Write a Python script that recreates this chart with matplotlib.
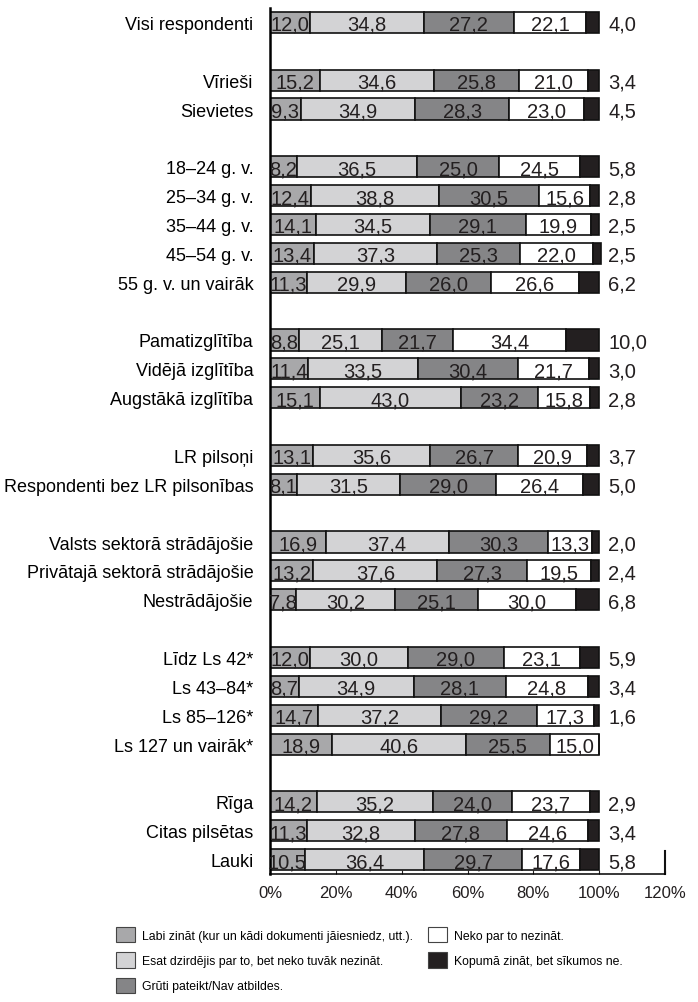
import numpy as np
import matplotlib.pyplot as plt
from matplotlib.patches import Patch

plt.rcParams['font.family'] = ['Liberation Sans', 'DejaVu Sans']

# rows grouped, one empty slot between groups
groups = [
    ['Visi respondenti'],
    ['Vīrieši', 'Sievietes'],
    ['18–24 g. v.', '25–34 g. v.', '35–44 g. v.', '45–54 g. v.', '55 g. v. un vairāk'],
    ['Pamatizglītība', 'Vidējā izglītība', 'Augstākā izglītība'],
    ['LR pilsoņi', 'Respondenti bez LR pilsonības'],
    ['Valsts sektorā strādājošie', 'Privātajā sektorā strādājošie', 'Nestrādājošie'],
    ['Līdz Ls 42*', 'Ls 43–84*', 'Ls 85–126*', 'Ls 127 un vairāk*'],
    ['Rīga', 'Citas pilsētas', 'Lauki'],
]

labi = [12.0, 15.2, 9.3, 8.2, 12.4, 14.1, 13.4, 11.3, 8.8, 11.4, 15.1, 13.1, 8.1,
        16.9, 13.2, 7.8, 12.0, 8.7, 14.7, 18.9, 14.2, 11.3, 10.5]
dzirdejis = [34.8, 34.6, 34.9, 36.5, 38.8, 34.5, 37.3, 29.9, 25.1, 33.5, 43.0, 35.6, 31.5,
             37.4, 37.6, 30.2, 30.0, 34.9, 37.2, 40.6, 35.2, 32.8, 36.4]
gruti = [27.2, 25.8, 28.3, 25.0, 30.5, 29.1, 25.3, 26.0, 21.7, 30.4, 23.2, 26.7, 29.0,
         30.3, 27.3, 25.1, 29.0, 28.1, 29.2, 25.5, 24.0, 27.8, 29.7]
neko = [22.1, 21.0, 23.0, 24.5, 15.6, 19.9, 22.0, 26.6, 34.4, 21.7, 15.8, 20.9, 26.4,
        13.3, 19.5, 30.0, 23.1, 24.8, 17.3, 15.0, 23.7, 24.6, 17.6]
kopuma = [4.0, 3.4, 4.5, 5.8, 2.8, 2.5, 2.5, 6.2, 10.0, 3.0, 2.8, 3.7, 5.0,
          2.0, 2.4, 6.8, 5.9, 3.4, 1.6, 0.0, 2.9, 3.4, 5.8]

legend_labels = ['Labi zināt (kur un kādi dokumenti jāiesniedz, utt.).',
                 'Esat dzirdējis par to, bet neko tuvāk nezināt.',
                 'Grūti pateikt/Nav atbildes.',
                 'Neko par to nezināt.',
                 'Kopumā zināt, bet sīkumos ne.']
colors = ['#a8a8aa', '#d3d3d5', '#858587', '#ffffff', '#231f20']

labels = []
pos = []
slot = 0
for g in groups:
    for name in g:
        labels.append(name)
        pos.append(slot)
        slot += 1
    slot += 1
pos = np.array(pos)

fig = plt.figure(figsize=(6.98, 10.03), dpi=100)
ax = fig.add_axes([270 / 698, 1 - 875 / 1003, 395 / 698, 866 / 1003])

series = [labi, dzirdejis, gruti, neko, kopuma]
left = np.zeros(len(labels))
for k, vals in enumerate(series):
    vals = np.array(vals)
    ax.barh(pos, vals, left=left, height=0.73, color=colors[k],
            edgecolor='#111111', linewidth=1.2)
    for y, l, v in zip(pos, left, vals):
        if v <= 0:
            continue
        txt = f'{v:.1f}'.replace('.', ',')
        if k < 4:
            ax.text(l + v / 2, y, txt, ha='center', va='center_baseline',
                    fontsize=14.5, color='#231f20')
        else:
            ax.text(102.7, y, txt, ha='left', va='center_baseline',
                    fontsize=14.5, color='#231f20')
    left += vals

ax.set_xlim(0, 120)
ax.set_ylim(29.5, -0.5)
ax.set_xticks(np.arange(0, 121, 20))
ax.set_xticklabels([f'{t}%' for t in range(0, 121, 20)], fontsize=12)
ax.set_yticks(pos)
ax.set_yticklabels(labels, fontsize=13)
ax.tick_params(axis='y', length=0, pad=12)
ax.tick_params(axis='x', direction='in', length=3, pad=8, colors='#231f20')
for s in ['top', 'right']:
    ax.spines[s].set_visible(False)
ax.spines['left'].set_linewidth(1.8)
ax.spines['bottom'].set_linewidth(1.1)
# short piece of the right frame at 120%
ax.plot([120, 120], [28.72, 29.5], color='#111111', lw=1.5, clip_on=False)

handles = [Patch(facecolor=c, edgecolor='#444444', linewidth=0.8) for c in colors]
leg_kw = dict(frameon=False, handlelength=1.55, handleheight=1.55,
              handletextpad=0.55, labelspacing=0.82, borderpad=0, borderaxespad=0,
              fontsize=8.8)
fig.legend(handles[:3], legend_labels[:3], loc='upper left',
           bbox_to_anchor=(116 / 698, 1 - 928 / 1003), **leg_kw)
fig.legend(handles[3:], legend_labels[3:], loc='upper left',
           bbox_to_anchor=(428 / 698, 1 - 928 / 1003), **leg_kw)

fig.savefig('out.png', dpi=100)
